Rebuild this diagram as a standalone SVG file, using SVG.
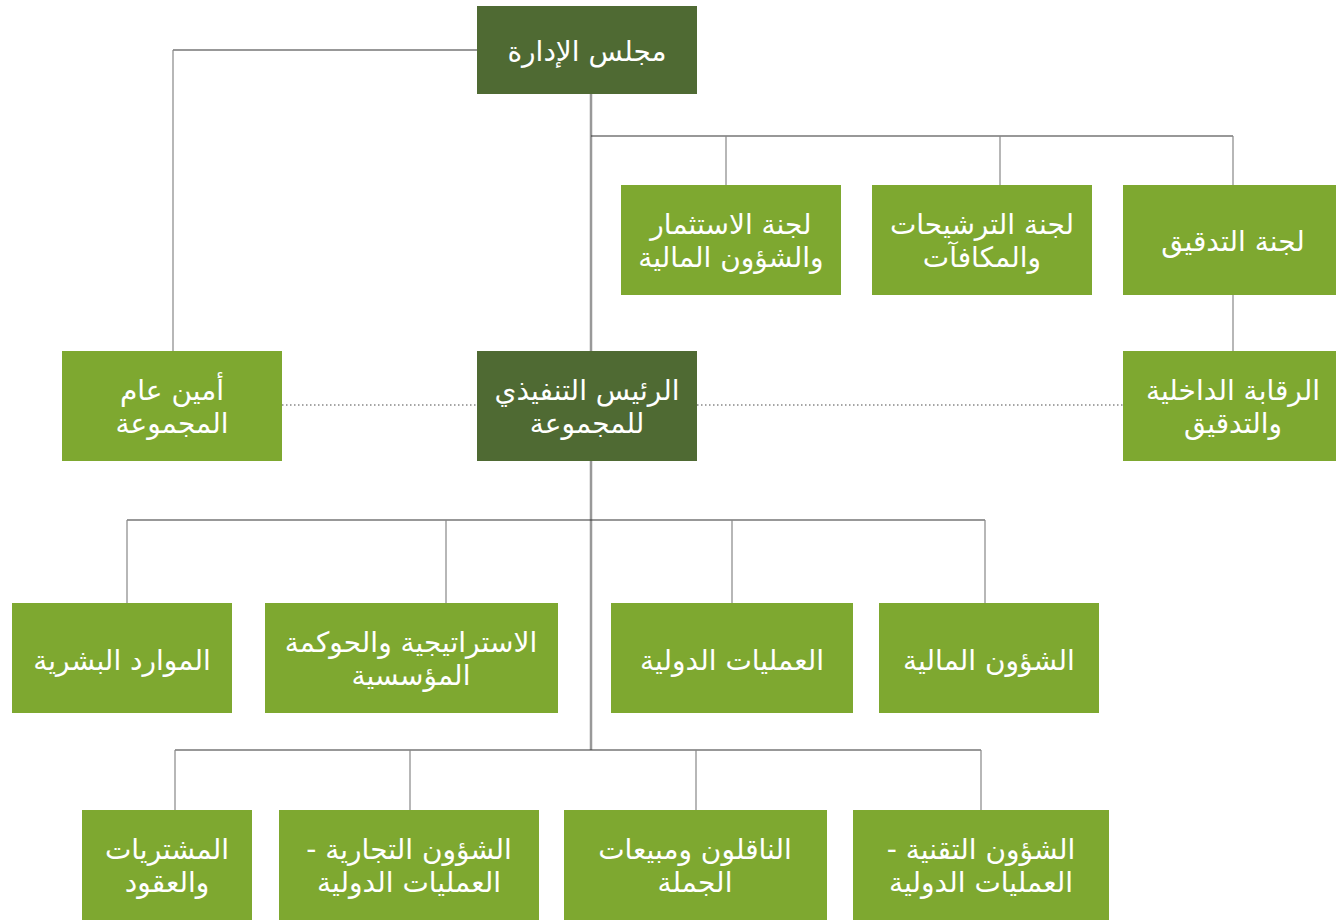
<svg xmlns="http://www.w3.org/2000/svg" width="1336" height="920" viewBox="0 0 1336 920">
<style>
.dark{fill:#4F6A33}
.light{fill:#7EA830}
.t{font-family:"DejaVu Sans",sans-serif;font-size:28px;fill:#ffffff;text-anchor:middle;direction:rtl}
.trunk{stroke:#999999;stroke-width:2.5;fill:none}
.h{stroke:#333333;stroke-width:1.2;fill:none}
.d{stroke:#888888;stroke-width:1.2;fill:none}
.dot{stroke:#888888;stroke-width:1.4;stroke-dasharray:1.5 2.5;fill:none}
</style>
<rect width="1336" height="920" fill="#ffffff"/>
<g id="connectors">
<path class="trunk" d="M591 94V351M591 461V750"/>
<path class="h" d="M173 50H477M591 136H1233M127 520H985M175 750H981"/>
<path class="d" d="M173 50V351M726 136V185M1000 136V185M1233 136V185M1233 295V351M127 520V603M446 520V603M732 520V603M985 520V603M175 750V810M410 750V810M696 750V810M981 750V810"/>
<path class="dot" d="M282 405H477M697 405H1123"/>
</g>
<g id="board"><rect class="dark" x="477" y="6" width="220" height="88"/><text class="t" x="587" y="61">مجلس الإدارة</text></g>
<g id="investment"><rect class="light" x="621" y="185" width="220" height="110"/><text class="t" x="731" y="234">لجنة الاستثمار</text><text class="t" x="731" y="267">والشؤون المالية</text></g>
<g id="nominations"><rect class="light" x="872" y="185" width="220" height="110"/><text class="t" x="982" y="234">لجنة الترشيحات</text><text class="t" x="982" y="267">والمكافآت</text></g>
<g id="audit"><rect class="light" x="1123" y="185" width="213" height="110"/><text class="t" x="1233" y="251">لجنة التدقيق</text></g>
<g id="secretary"><rect class="light" x="62" y="351" width="220" height="110"/><text class="t" x="172" y="400">أمين عام</text><text class="t" x="172" y="433">المجموعة</text></g>
<g id="ceo"><rect class="dark" x="477" y="351" width="220" height="110"/><text class="t" x="587" y="400">الرئيس التنفيذي</text><text class="t" x="587" y="433">للمجموعة</text></g>
<g id="internal-audit"><rect class="light" x="1123" y="351" width="213" height="110"/><text class="t" x="1233" y="400">الرقابة الداخلية</text><text class="t" x="1233" y="433">والتدقيق</text></g>
<g id="hr"><rect class="light" x="12" y="603" width="220" height="110"/><text class="t" x="122" y="670">الموارد البشرية</text></g>
<g id="strategy"><rect class="light" x="265" y="603" width="293" height="110"/><text class="t" x="411" y="652">الاستراتيجية والحوكمة</text><text class="t" x="411" y="685">المؤسسية</text></g>
<g id="intl-ops"><rect class="light" x="611" y="603" width="242" height="110"/><text class="t" x="732" y="670">العمليات الدولية</text></g>
<g id="finance"><rect class="light" x="879" y="603" width="220" height="110"/><text class="t" x="989" y="670">الشؤون المالية</text></g>
<g id="procurement"><rect class="light" x="82" y="810" width="170" height="110"/><text class="t" x="167" y="859">المشتريات</text><text class="t" x="167" y="892">والعقود</text></g>
<g id="commercial"><rect class="light" x="279" y="810" width="260" height="110"/><text class="t" x="409" y="859">الشؤون التجارية -</text><text class="t" x="409" y="892">العمليات الدولية</text></g>
<g id="carriers"><rect class="light" x="564" y="810" width="263" height="110"/><text class="t" x="695" y="859">الناقلون ومبيعات</text><text class="t" x="695" y="892">الجملة</text></g>
<g id="technical"><rect class="light" x="853" y="810" width="256" height="110"/><text class="t" x="981" y="859">الشؤون التقنية -</text><text class="t" x="981" y="892">العمليات الدولية</text></g>
</svg>
